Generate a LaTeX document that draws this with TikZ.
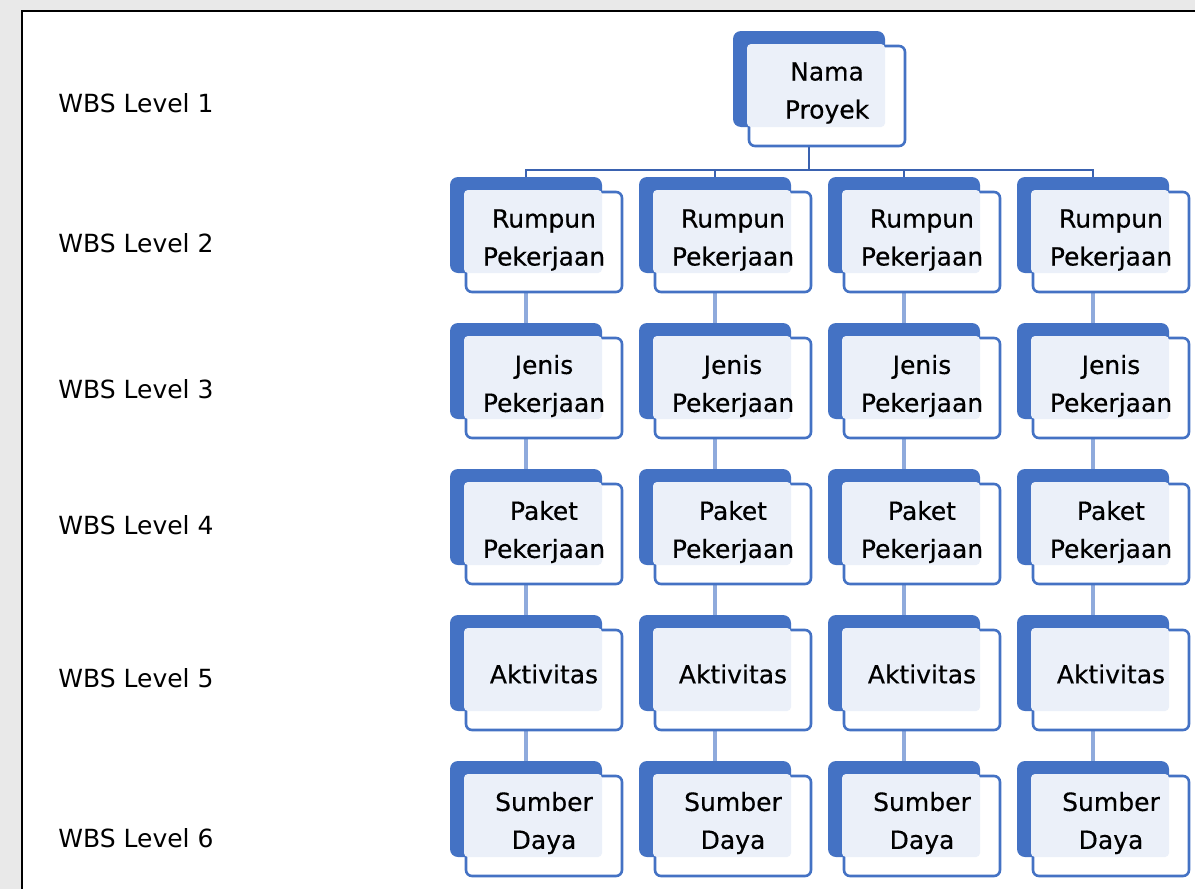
\documentclass[tikz,border=0pt]{standalone}
\usepackage{fontspec}
\setmainfont{DejaVu Sans}
\newfontfamily\boxfont[FakeBold=0.4]{DejaVu Sans}
\usetikzlibrary{backgrounds}
\definecolor{wbsblue}{HTML}{4472C4}
\definecolor{wbslight}{HTML}{EBF0F9}
\definecolor{wbsdark}{HTML}{3A62B0}
\definecolor{wbsline}{HTML}{8FAADC}
\definecolor{wbsgray}{HTML}{E9E9E9}
\begin{document}
\begin{tikzpicture}
[x=0.5pt,y=-0.5pt,
  backdecorate/.style={shape=rectangle,rounded corners=4pt,fill=wbsblue,minimum width=76pt,minimum height=48pt,inner sep=0pt,outer sep=0pt},%
  frontdecorate/.style={shape=rectangle,rounded corners=3pt,draw=wbsblue,line width=1.3pt,fill=white,minimum width=78pt,minimum height=50pt,inner sep=0pt,outer sep=0pt},%
  lightdecorate/.style={fill=wbslight,rounded corners=2pt},%
  textdecorate/.style={align=center,font=\boxfont\fontsize{12.5}{19}\selectfont,inner sep=0pt},%
  leveldecorate/.style={anchor=west,font=\fontsize{12.5}{15}\selectfont,inner sep=0pt},%
  buslinedecorate/.style={-,draw=wbsdark,line width=1.2pt},%
  linedecorate/.style={-,draw=wbsline,line width=1.8pt}]
\useasboundingbox (0,0) rectangle (1195,889);
%% level 1
\node (nb) at (809,79) [backdecorate] {};
\node (nf) at (827,96) [frontdecorate] {};
\fill[lightdecorate] ([shift={(-2,-2)}]nf.north west) rectangle (nb.south east);
\node (nt) at (827,93) [textdecorate] {Nama\\Proyek};
%% levels 2 to 6
\foreach \row/\y/\ty/\txt in {2/242/240/{Rumpun\\Pekerjaan}, 3/388/386/{Jenis\\Pekerjaan},
    4/534/532/{Paket\\Pekerjaan}, 5/680/674/{Aktivitas}, 6/826/823/{Sumber\\Daya}} {
  \foreach \col/\x in {1/544, 2/733, 3/922, 4/1111} {
    \node (b\row-\col) at (\x-18,\y-17) [backdecorate] {};
    \node (f\row-\col) at (\x,\y) [frontdecorate] {};
    \fill[lightdecorate] ([shift={(-2,-2)}]f\row-\col.north west) rectangle (b\row-\col.south east);
    \node (t\row-\col) at (\x,\ty) [textdecorate] {\txt};
  }
}
%% level labels
\foreach \lvl/\y in {1/103, 2/243, 3/389, 4/525, 5/678, 6/838} {
  \node (l\lvl) at (58,\y) [leveldecorate] {WBS Level \lvl};
}
%% frame and lines behind the boxes
\begin{pgfonlayer}{background}
\fill[wbsgray] (0,0) rectangle (1195,889);
\filldraw[fill=white,draw=black,line width=1pt] (22,11) rectangle (1220,920);
\coordinate (bus) at (nb |- 0,170);
\draw[buslinedecorate] (nb.south) -- (bus);
\foreach \col in {1,2,3,4} {
  \draw[buslinedecorate] (bus) -| (b2-\col.north);
}
\foreach \upper/\lower in {2/3, 3/4, 4/5, 5/6} {
  \foreach \col in {1,2,3,4} {
    \draw[linedecorate] (b\upper-\col.south) -- (b\lower-\col.north);
  }
}
\end{pgfonlayer}
\end{tikzpicture}
\end{document}
